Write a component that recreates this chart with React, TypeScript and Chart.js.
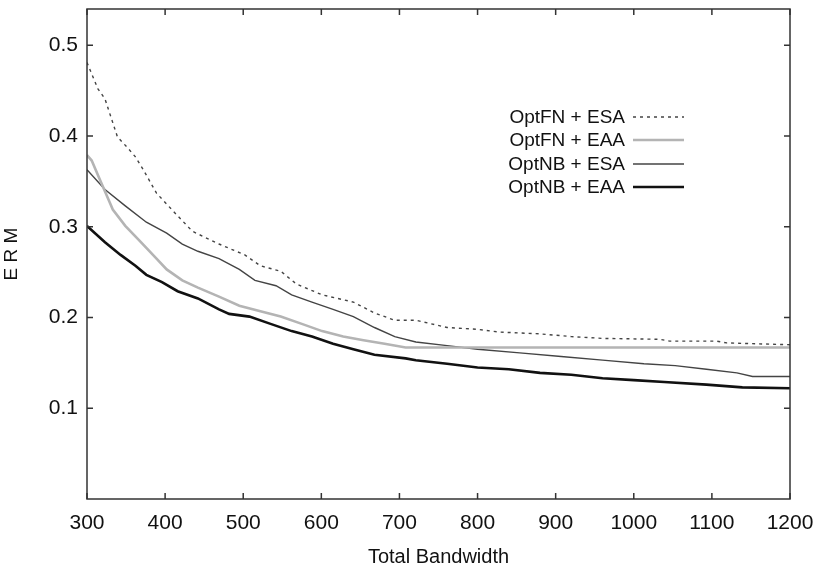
import React, { useEffect, useRef } from "react";
import { Chart, registerables } from "chart.js";

Chart.register(...registerables);

const seriesLabels = ["OptFN + ESA", "OptFN + EAA", "OptNB + ESA", "OptNB + EAA"];

const fnEsaX = [300, 314, 323, 339, 352, 362, 372, 389, 415, 435, 469, 502, 522, 548, 568, 601, 641, 668, 694, 721, 761, 800, 827, 880, 920, 960, 1033, 1046, 1106, 1119, 1200];
const fnEsaY = [0.481, 0.452, 0.441, 0.399, 0.387, 0.377, 0.363, 0.337, 0.313, 0.295, 0.281, 0.269, 0.257, 0.251, 0.237, 0.225, 0.217, 0.205, 0.197, 0.197, 0.189, 0.187, 0.184, 0.182, 0.179, 0.177, 0.176, 0.174, 0.174, 0.172, 0.170];

const fnEaaX = [300, 306, 316, 329, 333, 349, 369, 389, 402, 422, 442, 469, 495, 522, 548, 575, 601, 628, 654, 681, 708, 1200];
const fnEaaY = [0.379, 0.373, 0.353, 0.327, 0.319, 0.301, 0.283, 0.265, 0.253, 0.241, 0.233, 0.223, 0.213, 0.207, 0.201, 0.193, 0.185, 0.179, 0.175, 0.171, 0.167, 0.167];

const nbEsaX = [300, 323, 349, 376, 402, 422, 442, 469, 495, 515, 542, 562, 588, 615, 641, 668, 694, 721, 761, 800, 854, 907, 960, 1013, 1053, 1093, 1132, 1152, 1200];
const nbEsaY = [0.363, 0.341, 0.323, 0.305, 0.293, 0.281, 0.273, 0.265, 0.253, 0.241, 0.235, 0.225, 0.217, 0.209, 0.201, 0.189, 0.179, 0.173, 0.169, 0.165, 0.161, 0.157, 0.153, 0.149, 0.147, 0.143, 0.139, 0.135, 0.135];

const nbEaaX = [300, 323, 343, 362, 376, 396, 416, 442, 469, 482, 508, 535, 562, 588, 615, 641, 668, 708, 721, 761, 800, 840, 880, 920, 960, 1000, 1039, 1093, 1139, 1200];
const nbEaaY = [0.301, 0.283, 0.269, 0.257, 0.247, 0.239, 0.229, 0.221, 0.209, 0.204, 0.201, 0.193, 0.185, 0.179, 0.171, 0.165, 0.159, 0.155, 0.153, 0.149, 0.145, 0.143, 0.139, 0.137, 0.133, 0.131, 0.129, 0.126, 0.123, 0.122];

const xTicks = [300, 400, 500, 600, 700, 800, 900, 1000, 1100, 1200];
const yTicks = [0.1, 0.2, 0.3, 0.4, 0.5];

const FONT = "'Liberation Sans', Arial, Helvetica, sans-serif";

function pts(xs: number[], ys: number[]) {
  return xs.map((x, i) => ({ x, y: ys[i] }));
}

const frameAndLegend = {
  id: "frameAndLegend",
  afterDraw(chart: any) {
    const { ctx, chartArea, scales } = chart;
    const { left, right, top, bottom } = chartArea;
    ctx.save();
    ctx.strokeStyle = "#333";
    ctx.lineWidth = 1.5;
    ctx.setLineDash([]);
    ctx.strokeRect(left, top, right - left, bottom - top);
    const tl = 6;
    ctx.beginPath();
    for (const v of xTicks) {
      const px = scales.x.getPixelForValue(v);
      ctx.moveTo(px, bottom);
      ctx.lineTo(px, bottom - tl);
      ctx.moveTo(px, top);
      ctx.lineTo(px, top + tl);
    }
    for (const v of yTicks) {
      const py = scales.y.getPixelForValue(v);
      ctx.moveTo(left, py);
      ctx.lineTo(left + tl, py);
      ctx.moveTo(right, py);
      ctx.lineTo(right - tl, py);
    }
    ctx.stroke();

    // legend
    const textRight = right - 165;
    const lineStart = right - 157;
    const lineEnd = right - 106;
    const rows = [108, 131, 155, 178];
    ctx.font = "19px " + FONT;
    ctx.textAlign = "right";
    ctx.textBaseline = "middle";
    chart.data.datasets.forEach((ds: any, i: number) => {
      const y = top + rows[i];
      ctx.fillStyle = "#111";
      ctx.fillText(ds.label, textRight, y + 1);
      ctx.beginPath();
      ctx.strokeStyle = ds.borderColor;
      ctx.lineWidth = ds.borderWidth;
      ctx.setLineDash(ds.borderDash || []);
      ctx.moveTo(lineStart, y);
      ctx.lineTo(lineEnd, y);
      ctx.stroke();
    });
    ctx.restore();
  },
};

export default function App() {
  const ref = useRef<HTMLCanvasElement | null>(null);
  useEffect(() => {
    if (!ref.current) return;
    const chart = new Chart(ref.current, {
      type: "line",
      data: {
        datasets: [
          {
            label: seriesLabels[0],
            data: pts(fnEsaX, fnEsaY),
            borderColor: "#444",
            borderWidth: 1.4,
            borderDash: [3, 4],
            pointRadius: 0,
            fill: false,
          },
          {
            label: seriesLabels[1],
            data: pts(fnEaaX, fnEaaY),
            borderColor: "#b4b4b4",
            borderWidth: 2.6,
            pointRadius: 0,
            fill: false,
          },
          {
            label: seriesLabels[2],
            data: pts(nbEsaX, nbEsaY),
            borderColor: "#444",
            borderWidth: 1.4,
            pointRadius: 0,
            fill: false,
          },
          {
            label: seriesLabels[3],
            data: pts(nbEaaX, nbEaaY),
            borderColor: "#111",
            borderWidth: 2.6,
            pointRadius: 0,
            fill: false,
          },
        ],
      },
      options: {
        animation: false,
        responsive: false,
        maintainAspectRatio: false,
        layout: { padding: { left: 0, right: 24, top: 9, bottom: 0 } },
        plugins: { legend: { display: false }, tooltip: { enabled: false } },
        scales: {
          x: {
            type: "linear",
            min: 300,
            max: 1200,
            grid: { display: false, drawTicks: false },
            border: { display: false },
            ticks: {
              stepSize: 100,
              padding: 12,
              color: "#111",
              font: { size: 21, family: FONT },
              maxRotation: 0,
              autoSkip: false,
              callback: (v: any) => String(Math.round(Number(v))),
            },
            title: {
              display: true,
              text: "Total Bandwidth",
              color: "#111",
              font: { size: 20, family: FONT },
              padding: { top: 0, bottom: 0 },
            },
            afterFit: (s: any) => {
              s.height = 70;
              s.paddingLeft = 0;
              s.paddingRight = 0;
            },
          },
          y: {
            type: "linear",
            min: 0,
            max: 0.54,
            grid: { display: false, drawTicks: false },
            border: { display: false },
            ticks: {
              stepSize: 0.1,
              includeBounds: false,
              padding: 9,
              color: "#111",
              font: { size: 21, family: FONT },
              callback: (v: any) => (Math.abs(v) < 1e-9 ? "" : Number(v).toFixed(1)),
            },
            title: {
              display: true,
              text: "E R M",
              color: "#111",
              font: { size: 19, family: FONT },
              padding: { top: 0, bottom: 0 },
            },
            afterFit: (s: any) => {
              s.width = 87;
              s.paddingTop = 0;
              s.paddingBottom = 0;
            },
          },
        },
      },
      plugins: [frameAndLegend],
    });
    return () => chart.destroy();
  }, []);
  return (
    <div style={{ position: "fixed", left: 0, top: 0, width: 814, height: 569, background: "#fff" }}>
      <canvas ref={ref} width={814} height={569} style={{ width: 814, height: 569, display: "block" }} />
    </div>
  );
}
